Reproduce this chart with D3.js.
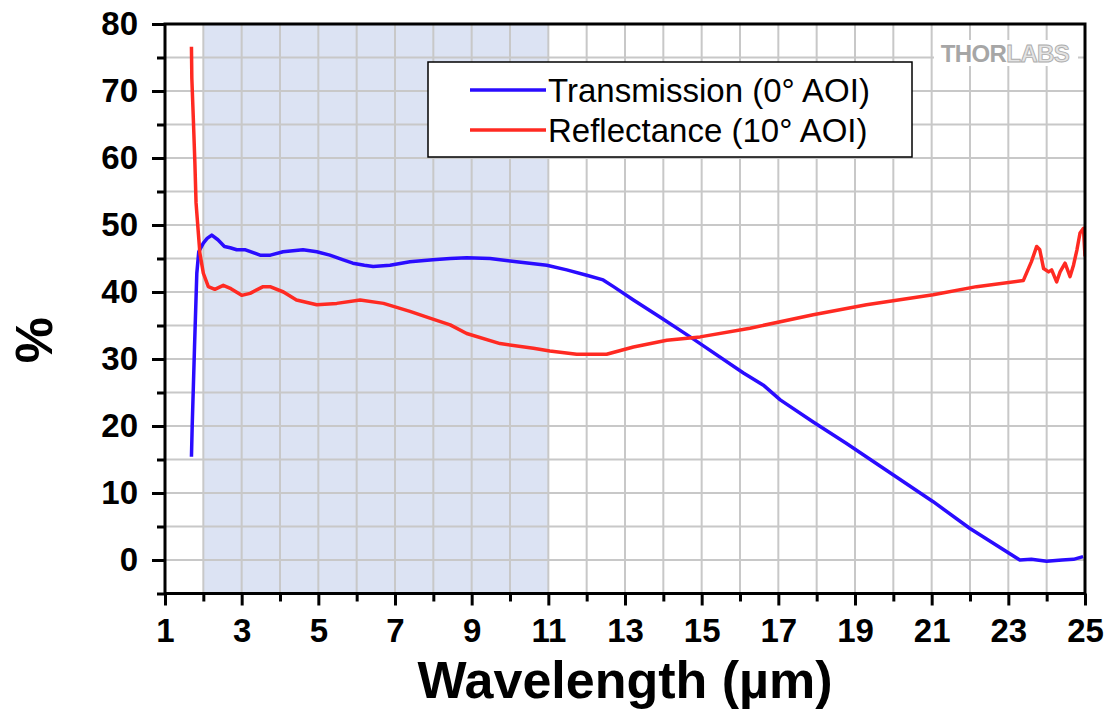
<!DOCTYPE html>
<html>
<head>
<meta charset="utf-8">
<script src="https://cdn.jsdelivr.net/npm/d3@7"></script>
<style>
  html, body { margin: 0; padding: 0; background: #ffffff; }
  svg { display: block; }
</style>
</head>
<body>
<svg id="chart" width="1108" height="714"></svg>
<script>
// ---------- data ----------
const transWl  = [1.69,1.71,1.74,1.77,1.80,1.83,1.88,2.00,2.10,2.22,2.38,2.55,2.70,2.87,3.10,3.48,3.75,4.08,4.60,4.96,5.30,5.65,5.90,6.20,6.43,6.87,7.39,7.99,8.44,8.87,9.48,10.17,10.96,11.48,12.00,12.43,12.70,13.22,13.90,14.70,14.96,16.09,16.61,17.05,17.91,18.78,19.74,21.04,22.00,23.30,23.60,24.00,24.40,24.70,24.95];
const transVal = [15.4,20.1,25.9,31.8,37.3,42.8,46.0,47.3,48.0,48.5,47.8,46.8,46.6,46.3,46.3,45.5,45.5,46.0,46.3,46.0,45.5,44.8,44.3,44.0,43.8,44.0,44.5,44.8,45.0,45.1,45.0,44.5,44.0,43.3,42.5,41.8,40.8,38.8,36.3,33.3,32.3,27.9,26.1,23.9,20.6,17.4,13.7,8.7,4.7,0.0,0.1,-0.2,0.0,0.1,0.5];

const reflWl  = [1.69,1.70,1.74,1.78,1.81,1.87,1.91,2.00,2.13,2.30,2.52,2.72,3.00,3.22,3.56,3.74,4.09,4.43,4.96,5.48,6.09,6.70,7.39,7.91,8.44,8.87,9.74,10.61,11.04,11.74,12.52,13.22,14.09,14.96,16.26,17.91,19.30,21.04,22.17,23.39,23.60,23.74,23.82,23.92,24.05,24.13,24.26,24.35,24.48,24.61,24.70,24.79,24.87,24.96,25.00];
const reflVal = [76.6,71.9,65.7,59.2,53.3,48.8,45.8,42.8,40.8,40.4,41.0,40.5,39.5,39.8,40.8,40.8,40.0,38.8,38.1,38.3,38.8,38.3,37.1,36.1,35.1,33.8,32.3,31.6,31.2,30.7,30.7,31.8,32.8,33.3,34.6,36.6,38.1,39.6,40.8,41.7,44.5,46.8,46.3,43.5,43.0,43.3,41.5,43.0,44.3,42.3,44.0,46.3,48.8,49.5,45.3];

const seriesNames = ["Transmission (0\u00B0 AOI)", "Reflectance (10\u00B0 AOI)"];
const seriesColors = ["#2a0cff", "#ff2a22"];
const shadeRange = [2, 11];
const xMajorTicks = [1,3,5,7,9,11,13,15,17,19,21,23,25];
const xMinorTicks = [2,4,6,8,10,12,14,16,18,20,22,24];
const yMajorTicks = [0,10,20,30,40,50,60,70,80];
const yMinorTicks = [-5,5,15,25,35,45,55,65,75];
const xTitle = "Wavelength (\u00B5m)";
const yTitle = "%";

// ---------- layout ----------
const svg = d3.select("#chart");
const L = 165, R = 1085, T = 24, B = 593.5;
const x = d3.scaleLinear().domain([1, 25]).range([L, R]);
const y = d3.scaleLinear().domain([-5, 80]).range([B, T]);

// shaded band
svg.append("rect")
  .attr("x", x(shadeRange[0])).attr("y", T)
  .attr("width", x(shadeRange[1]) - x(shadeRange[0])).attr("height", B - T)
  .attr("fill", "#dce3f3");

// grid
const gridX = d3.range(2, 25, 1);
const gridY = d3.range(0, 80, 5);
svg.append("g").selectAll("line").data(gridX).join("line")
  .attr("x1", d => x(d)).attr("x2", d => x(d)).attr("y1", T).attr("y2", B)
  .attr("stroke", "#c8c8c8").attr("stroke-width", 2);
svg.append("g").selectAll("line").data(gridY).join("line")
  .attr("x1", L).attr("x2", R).attr("y1", d => y(d)).attr("y2", d => y(d))
  .attr("stroke", "#c8c8c8").attr("stroke-width", 2);

// logo
svg.append("rect").attr("x", 934).attr("y", 40).attr("width", 144).attr("height", 26).attr("fill", "#ffffff");
const logo = svg.append("text").attr("x", 1005).attr("y", 62).attr("text-anchor", "middle")
  .attr("font-family", "Liberation Sans, Arial, sans-serif").attr("font-weight", "bold")
  .attr("font-size", 24).attr("letter-spacing", -0.6);
logo.append("tspan").text("THOR").attr("fill", "#a6a6a6");
logo.append("tspan").text("LABS").attr("fill", "#e4e4e4").attr("stroke", "#acacac").attr("stroke-width", 0.9);

// clip
svg.append("clipPath").attr("id", "clip").append("rect")
  .attr("x", L).attr("y", T).attr("width", R - L).attr("height", B - T);

const line = d3.line().x(d => x(d[0])).y(d => y(d[1]));
const plot = svg.append("g").attr("clip-path", "url(#clip)");
plot.append("path").datum(transWl.map((w, i) => [w, transVal[i]]))
  .attr("d", line).attr("fill", "none").attr("stroke", seriesColors[0])
  .attr("stroke-width", 3.5).attr("stroke-linejoin", "round");
plot.append("path").datum(reflWl.map((w, i) => [w, reflVal[i]]))
  .attr("d", line).attr("fill", "none").attr("stroke", seriesColors[1])
  .attr("stroke-width", 3.5).attr("stroke-linejoin", "round");

// axes
const fontFam = "Liberation Sans, Arial, sans-serif";
const gy = svg.append("g").attr("transform", `translate(${L},0)`)
  .call(d3.axisLeft(y).tickValues(yMajorTicks).tickSize(13).tickPadding(14).tickFormat(d3.format("d")));
gy.select(".domain").remove();
gy.selectAll(".tick line").attr("stroke", "#000").attr("stroke-width", 3);
gy.selectAll(".tick text").attr("font-family", fontFam).attr("font-weight", "bold")
  .attr("font-size", 33).attr("fill", "#000");
const gym = svg.append("g").attr("transform", `translate(${L},0)`)
  .call(d3.axisLeft(y).tickValues(yMinorTicks).tickSize(8).tickFormat(""));
gym.select(".domain").remove();
gym.selectAll(".tick line").attr("stroke", "#000").attr("stroke-width", 3);

const gx = svg.append("g").attr("transform", `translate(0,${B})`)
  .call(d3.axisBottom(x).tickValues(xMajorTicks).tickSize(12).tickPadding(13).tickFormat(d3.format("d")));
gx.select(".domain").remove();
gx.selectAll(".tick line").attr("stroke", "#000").attr("stroke-width", 3);
gx.selectAll(".tick text").attr("font-family", fontFam).attr("font-weight", "bold")
  .attr("font-size", 33).attr("fill", "#000");
const gxm = svg.append("g").attr("transform", `translate(0,${B})`)
  .call(d3.axisBottom(x).tickValues(xMinorTicks).tickSize(8).tickFormat(""));
gxm.select(".domain").remove();
gxm.selectAll(".tick line").attr("stroke", "#000").attr("stroke-width", 3);

// frame
svg.append("rect").attr("x", L).attr("y", T).attr("width", R - L).attr("height", B - T)
  .attr("fill", "none").attr("stroke", "#000").attr("stroke-width", 3);

// titles
svg.append("text").attr("x", 625).attr("y", 698).attr("text-anchor", "middle")
  .attr("font-family", fontFam).attr("font-weight", "bold").attr("font-size", 52)
  .text(xTitle);
svg.append("text").attr("transform", "translate(52,340) rotate(-90)").attr("text-anchor", "middle")
  .attr("font-family", fontFam).attr("font-weight", "bold").attr("font-size", 52)
  .text(yTitle);

// legend
const lg = svg.append("g");
lg.append("rect").attr("x", 428).attr("y", 62).attr("width", 484).attr("height", 95)
  .attr("fill", "#fff").attr("stroke", "#000").attr("stroke-width", 1.5);
seriesNames.forEach((name, i) => {
  const yy = 90 + i * 40;
  lg.append("line").attr("x1", 470).attr("x2", 546).attr("y1", yy).attr("y2", yy)
    .attr("stroke", seriesColors[i]).attr("stroke-width", 3.5);
  lg.append("text").attr("x", 548).attr("y", yy + 12)
    .attr("font-family", fontFam).attr("font-size", 33).attr("fill", "#000").text(name);
});
</script>
</body>
</html>
